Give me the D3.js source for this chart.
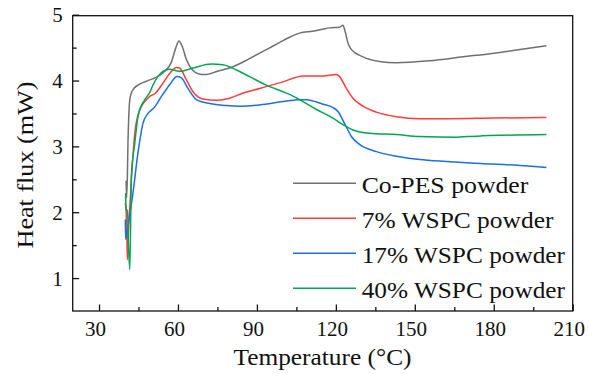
<!DOCTYPE html>
<html>
<head>
<meta charset="utf-8">
<script src="https://cdn.jsdelivr.net/npm/d3@7"></script>
<style>
  html, body { margin: 0; padding: 0; background: #fff; }
  svg { display: block; }
  svg text { font-family: "Liberation Serif", "Times New Roman", Times, serif; fill: #111; }
</style>
</head>
<body>
<svg id="chart" width="589" height="374"></svg>
<script>
// ---- Data ----
const seriesNames = ["Co-PES powder", "7% WSPC powder", "17% WSPC powder", "40% WSPC powder"];
const seriesColors = ["#707070", "#ff3d3d", "#1a6fe6", "#00a651"];

const copesT = [40.3, 40.5, 40.8, 41.0, 41.3, 41.7, 42.3, 42.9, 44.8, 48, 51.2, 55, 57.5, 59.2, 60.4, 61.6, 63.2, 65.5, 68, 70.2, 75, 80.9, 87, 93.6, 98.7, 102, 106.2, 111.2, 115, 117.6, 121.4, 122.7, 123.5, 124.6, 125.9, 130.3, 136.6, 143, 155.6, 168.3, 180.9, 190, 200];
const copesV = [2.48, 2.22, 2.6, 3.05, 3.45, 3.71, 3.81, 3.86, 3.93, 3.99, 4.04, 4.14, 4.28, 4.5, 4.6, 4.52, 4.32, 4.16, 4.1, 4.09, 4.14, 4.21, 4.33, 4.47, 4.58, 4.65, 4.72, 4.75, 4.78, 4.8, 4.81, 4.84, 4.75, 4.57, 4.47, 4.36, 4.29, 4.27, 4.3, 4.36, 4.42, 4.47, 4.53];

const wspc7T = [40.0, 40.3, 40.6, 40.8, 41.2, 42.0, 43.6, 45.5, 47.4, 49.3, 51.2, 54.3, 56.9, 59.4, 60.6, 63.2, 65.7, 69.5, 74.6, 79.6, 84.7, 91.0, 99.9, 107.5, 115.1, 120.2, 121.4, 124, 126.5, 130.3, 135.4, 143, 151.8, 162, 180, 200];
const wspc7V = [2.14, 2.02, 1.6, 1.28, 1.7, 2.29, 3.2, 3.56, 3.68, 3.76, 3.8, 3.96, 4.11, 4.2, 4.19, 4.01, 3.83, 3.72, 3.70, 3.73, 3.81, 3.88, 3.98, 4.07, 4.07, 4.09, 4.06, 3.88, 3.73, 3.61, 3.52, 3.45, 3.42, 3.42, 3.43, 3.44];

const wspc17T = [40.0, 40.1, 41.0, 42.9, 44.8, 46.7, 48.6, 51.2, 53.1, 56.9, 59.6, 61.3, 63.8, 67, 72.1, 78.4, 83.4, 91, 99.9, 106.2, 108.8, 115.1, 118.9, 120.8, 123.3, 125.9, 129, 135.4, 143, 151.8, 162, 175, 190, 200];
const wspc17V = [1.89, 1.59, 1.79, 2.29, 2.9, 3.35, 3.5, 3.6, 3.72, 3.94, 4.06, 4.04, 3.88, 3.71, 3.65, 3.62, 3.61, 3.63, 3.68, 3.71, 3.71, 3.64, 3.59, 3.53, 3.35, 3.15, 3.03, 2.92, 2.85, 2.8, 2.77, 2.74, 2.71, 2.68];

const wspc40T = [40.1, 40.3, 40.8, 41.2, 41.7, 42.3, 43.6, 44.8, 47.4, 49.3, 50.5, 54.3, 56.9, 60.6, 65.7, 72.7, 77.1, 82.2, 87.2, 93.6, 99.9, 102.4, 107.5, 112.6, 118.9, 122.7, 126.5, 132.8, 143, 151.8, 166, 170, 175.7, 200];
const wspc40V = [2.29, 2.04, 2.03, 1.5, 1.13, 2.55, 3.05, 3.45, 3.71, 3.82, 3.93, 4.14, 4.17, 4.14, 4.19, 4.25, 4.24, 4.16, 4.06, 3.93, 3.83, 3.79, 3.68, 3.56, 3.43, 3.33, 3.25, 3.2, 3.18, 3.15, 3.14, 3.15, 3.16, 3.18];

const xTicks = [30, 60, 90, 120, 150, 180, 210];
const xMinorTicks = [45, 75, 105, 135, 165, 195];
const yTicks = [1, 2, 3, 4, 5];
const yMinorTicks = [1.5, 2.5, 3.5, 4.5];
const xTitle = "Temperature (°C)";
const yTitle = "Heat flux (mW)";

// ---- Layout ----
const FONT = '"Liberation Serif", "Times New Roman", Times, serif';
const svg = d3.select("#chart");
const L = 72.7, R = 572.7, T = 14.7, B = 311;
const x = d3.scaleLinear().domain([20, 210]).range([L, R]);
const y = d3.scaleLinear().domain([0.5, 5]).range([B, T]);

const series = [
  {name: seriesNames[0], color: seriesColors[0], t: copesT, v: copesV},
  {name: seriesNames[1], color: seriesColors[1], t: wspc7T, v: wspc7V},
  {name: seriesNames[2], color: seriesColors[2], t: wspc17T, v: wspc17V},
  {name: seriesNames[3], color: seriesColors[3], t: wspc40T, v: wspc40V}
];

const line = d3.line()
  .x(d => x(d[0]))
  .y(d => y(d[1]))
  .curve(d3.curveMonotoneX);

series.forEach(s => {
  const pts = s.t.map((t, i) => [t, s.v[i]]);
  svg.append("path")
    .datum(pts)
    .attr("d", line)
    .attr("fill", "none")
    .attr("stroke", s.color)
    .attr("stroke-width", 1.5)
    .attr("stroke-linejoin", "round");
});

// Axes (inward ticks)
const xAxis = d3.axisBottom(x).tickValues(xTicks).tickSizeInner(-6.5).tickSizeOuter(0).tickPadding(10).tickFormat(d3.format("d"));
const xMinor = d3.axisBottom(x).tickValues(xMinorTicks).tickSizeInner(-4).tickSizeOuter(0).tickFormat("");
const yAxis = d3.axisLeft(y).tickValues(yTicks).tickSizeInner(-6.5).tickSizeOuter(0).tickPadding(10).tickFormat(d3.format("d"));
const yMinor = d3.axisLeft(y).tickValues(yMinorTicks).tickSizeInner(-4).tickSizeOuter(0).tickFormat("");

const gx = svg.append("g").attr("transform", `translate(0,${B})`).call(xAxis);
svg.append("g").attr("transform", `translate(0,${B})`).call(xMinor);
const gy = svg.append("g").attr("transform", `translate(${L},0)`).call(yAxis);
svg.append("g").attr("transform", `translate(${L},0)`).call(yMinor);

svg.selectAll("g").attr("font-family", null);
svg.selectAll(".domain").remove();
svg.selectAll(".tick line").attr("stroke", "#111").attr("stroke-width", 1.3);
gx.selectAll("text").attr("dx", -4).attr("dy", "0.71em")
  .style("font-family", FONT).style("font-size", "21px").style("fill", "#111");
gy.selectAll("text").attr("dy", "0.34em")
  .style("font-family", FONT).style("font-size", "21px").style("fill", "#111");

// Frame
svg.append("rect")
  .attr("x", L).attr("y", T + 1)
  .attr("width", R - L).attr("height", B - T - 1)
  .attr("fill", "none").attr("stroke", "#111").attr("stroke-width", 1.3);

// Axis titles
svg.append("text")
  .attr("x", 322.5).attr("y", 365)
  .attr("text-anchor", "middle")
  .style("font-size", "24px")
  .attr("textLength", 178).attr("lengthAdjust", "spacingAndGlyphs")
  .text(xTitle);

svg.append("text")
  .attr("transform", `translate(33,165) rotate(-90)`)
  .attr("text-anchor", "middle")
  .style("font-size", "24px")
  .attr("textLength", 167).attr("lengthAdjust", "spacingAndGlyphs")
  .text(yTitle);

// Legend
const legendWidths = [166.7, 191.7, 203.3, 203.3];
const legendY0 = 192.7, legendDY = 35;
series.forEach((s, i) => {
  const by = legendY0 + i * legendDY;
  svg.append("line")
    .attr("x1", 293).attr("x2", 356)
    .attr("y1", by - 9.5).attr("y2", by - 9.5)
    .attr("stroke", s.color).attr("stroke-width", 1.5);
  svg.append("text")
    .attr("x", 361.7).attr("y", by)
    .style("font-size", "24px")
    .attr("textLength", legendWidths[i]).attr("lengthAdjust", "spacingAndGlyphs")
    .text(s.name);
});
</script>
</body>
</html>
